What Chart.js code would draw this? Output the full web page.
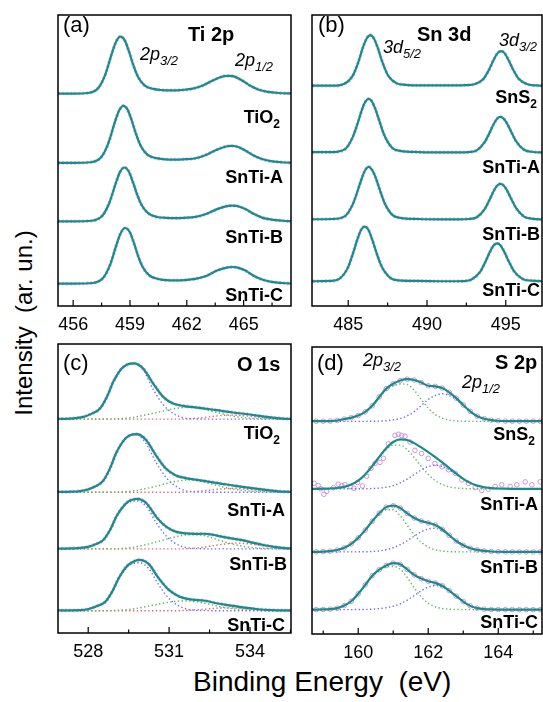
<!DOCTYPE html>
<html>
<head>
<meta charset="utf-8">
<script src="https://cdn.jsdelivr.net/npm/chart.js@4.4.1/dist/chart.umd.min.js"></script>
<style>
html, body { margin: 0; padding: 0; background: #fff; }
body { width: 543px; height: 702px; position: relative; overflow: hidden; font-family: "Liberation Sans", Arial, sans-serif; color: #000; }
canvas { position: absolute; }
.t { position: absolute; line-height: 1; white-space: nowrap; }
.lab { font-weight: bold; font-size: 18px; }
.ttl { font-weight: bold; font-size: 20px; }
.pn { font-size: 22px; }
.it { font-style: italic; font-size: 18px; }
.si { font-size: 13px; position: relative; top: 5px; }
.sb { font-size: 12px; position: relative; top: 5px; }
</style>
</head>
<body>
<canvas id="pa" width="273" height="323" style="left:38px;top:13px"></canvas>
<canvas id="pb" width="270" height="323" style="left:292px;top:13px"></canvas>
<canvas id="pc" width="273" height="321" style="left:38px;top:342px"></canvas>
<canvas id="pd" width="270" height="322" style="left:292px;top:342px"></canvas>

<!-- panel (a) -->
<div class="t pn" style="left:63px;top:14px">(a)</div>
<div class="t ttl" style="left:188px;top:24px">Ti 2p</div>
<div class="t it" style="left:140px;top:45px">2p<span class="si">3/2</span></div>
<div class="t it" style="left:235px;top:51px">2p<span class="si">1/2</span></div>
<div class="t lab" style="right:263px;top:108px">TiO<span class="sb">2</span></div>
<div class="t lab" style="right:260px;top:168px">SnTi-A</div>
<div class="t lab" style="right:260px;top:228px">SnTi-B</div>
<div class="t lab" style="right:260px;top:286px">SnTi-C</div>

<!-- panel (b) -->
<div class="t pn" style="left:318px;top:14px">(b)</div>
<div class="t ttl" style="left:417px;top:24px">Sn 3d</div>
<div class="t it" style="left:383px;top:38px">3d<span class="si">5/2</span></div>
<div class="t it" style="left:499px;top:31px">3d<span class="si">3/2</span></div>
<div class="t lab" style="right:6px;top:88px">SnS<span class="sb">2</span></div>
<div class="t lab" style="right:3px;top:158px">SnTi-A</div>
<div class="t lab" style="right:3px;top:225px">SnTi-B</div>
<div class="t lab" style="right:3px;top:281px">SnTi-C</div>

<!-- panel (c) -->
<div class="t pn" style="left:63px;top:352px">(c)</div>
<div class="t ttl" style="left:237px;top:354px">O 1s</div>
<div class="t lab" style="right:263px;top:424px">TiO<span class="sb">2</span></div>
<div class="t lab" style="right:258px;top:501px">SnTi-A</div>
<div class="t lab" style="right:256px;top:555px">SnTi-B</div>
<div class="t lab" style="right:258px;top:616px">SnTi-C</div>

<!-- panel (d) -->
<div class="t pn" style="left:317px;top:352px">(d)</div>
<div class="t ttl" style="left:495px;top:352px">S 2p</div>
<div class="t it" style="left:363px;top:351px">2p<span class="si">3/2</span></div>
<div class="t it" style="left:462px;top:373px">2p<span class="si">1/2</span></div>
<div class="t lab" style="right:8px;top:425px">SnS<span class="sb">2</span></div>
<div class="t lab" style="right:5px;top:495px">SnTi-A</div>
<div class="t lab" style="right:5px;top:558px">SnTi-B</div>
<div class="t lab" style="right:5px;top:613px">SnTi-C</div>

<div class="t" style="left:193px;top:668px;font-size:28px">Binding Energy&nbsp;&nbsp;(eV)</div>
<div class="t" style="left:24px;top:323px;font-size:24px;transform:translate(-50%,-50%) rotate(-90deg)">Intensity&nbsp;&nbsp;(ar. un.)</div>

<script>
// ---- (a) Ti 2p ----
const tiRange = [455.2, 467.5];
const tiTickLabels = [456, 459, 462, 465];
const tiOffsets = [72.9, 49.1, 29.0, 7.6]; // TiO2, SnTi-A, SnTi-B, SnTi-C
const ti_TiO2 = [[455,0.1],[456,0.1],[456.78,0.3],[457.35,2.2],[457.7,6.7],[458.04,13.8],[458.27,18.0],[458.5,19.7],[458.73,18.3],[458.96,14.3],[459.19,9.6],[459.42,5.9],[459.77,2.9],[460.23,1.7],[460.7,1.3],[461.2,1.2],[461.67,1.3],[462.25,1.7],[462.82,2.8],[463.4,4.7],[463.97,6.1],[464.2,6.2],[464.43,6.1],[464.89,4.7],[465.35,2.8],[465.81,1.4],[466.27,0.7],[466.85,0.3],[467.4,0.15],[467.7,0.1]];
const ti_SnTiA = [[455,0.1],[456,0.1],[456.93,0.3],[457.5,2.2],[457.85,6.7],[458.19,13.8],[458.42,18.0],[458.65,19.7],[458.88,18.3],[459.11,14.3],[459.34,9.6],[459.57,5.9],[459.92,2.9],[460.38,1.7],[460.85,1.3],[461.3,1.2],[461.82,1.3],[462.4,1.6],[462.97,2.7],[463.55,4.5],[464.12,5.8],[464.35,5.9],[464.58,5.8],[465.04,4.5],[465.5,2.7],[465.96,1.4],[466.42,0.7],[467,0.3],[467.4,0.15],[467.7,0.1]];
const ti_SnTiB = [[455,0.1],[456,0.1],[456.98,0.3],[457.55,2.1],[457.9,6.3],[458.24,13.0],[458.47,17.0],[458.7,18.6],[458.93,17.3],[459.16,13.5],[459.39,9.1],[459.62,5.6],[459.97,2.8],[460.43,1.6],[460.9,1.3],[461.4,1.2],[461.87,1.3],[462.45,1.6],[463.02,2.6],[463.6,4.3],[464.17,5.4],[464.4,5.5],[464.63,5.4],[465.09,4.3],[465.55,2.6],[466.01,1.3],[466.47,0.7],[467.05,0.3],[467.4,0.15],[467.7,0.1]];
const ti_SnTiC = [[455,0.1],[456,0.1],[457.03,0.3],[457.6,2.2],[457.95,6.5],[458.29,13.5],[458.52,17.6],[458.75,19.2],[458.98,17.9],[459.21,14.0],[459.44,9.4],[459.67,5.8],[460.02,2.9],[460.48,1.7],[460.9,1.3],[461.4,1.2],[461.87,1.3],[462.45,1.7],[463.02,2.7],[463.6,4.6],[464.17,5.7],[464.4,5.8],[464.63,5.7],[465.09,4.6],[465.55,2.7],[466.01,1.4],[466.47,0.7],[467.05,0.3],[467.4,0.15],[467.7,0.1]];

// ---- (b) Sn 3d ----
const snRange = [482.7, 497.3];
const snTickLabels = [485, 490, 495];
const snOffsets = [75.6, 52.6, 29.6, 8.4]; // SnS2, SnTi-A, SnTi-B, SnTi-C
const sn_SnS2 = [[482.5,0.1],[484,0.1],[484.72,0.7],[485.28,3.5],[485.62,7.9],[485.95,13.5],[486.18,16.4],[486.4,17.5],[486.62,16.4],[486.85,13.5],[487.18,8.0],[487.52,3.7],[488.08,0.9],[488.64,0.4],[489.5,0.2],[491,0.2],[491.9,0.2],[492.46,0.3],[493.02,0.6],[493.58,2.4],[493.92,5.4],[494.25,9.2],[494.48,11.3],[494.7,12.0],[494.92,11.3],[495.15,9.2],[495.48,5.5],[495.82,2.5],[496.38,0.6],[496.94,0.2],[497.5,0.1]];
const sn_SnTiA = [[482.5,0.3],[484,0.3],[484.8,1.3],[485.3,5.6],[485.6,10.2],[485.9,15.3],[486.1,17.7],[486.3,18.6],[486.5,17.7],[486.7,15.4],[487,10.6],[487.3,6.0],[487.8,1.7],[488.3,0.7],[489.5,0.3],[491,0.2],[492,0.2],[492.66,0.3],[493.16,0.9],[493.66,3.7],[493.96,6.8],[494.26,10.2],[494.46,11.8],[494.66,12.4],[494.86,11.8],[495.06,10.3],[495.36,7.1],[495.66,4.0],[496.16,1.1],[496.66,0.4],[497.5,0.1]];
const sn_SnTiB = [[482.5,0.2],[484,0.3],[484.8,1.3],[485.3,5.5],[485.6,10.0],[485.9,14.9],[486.1,17.3],[486.3,18.2],[486.5,17.3],[486.7,15.1],[487,10.4],[487.3,5.9],[487.8,1.7],[488.3,0.7],[489.5,0.3],[491,0.2],[492,0.2],[492.66,0.3],[493.16,0.9],[493.66,3.7],[493.96,6.8],[494.26,10.2],[494.46,11.8],[494.66,12.4],[494.86,11.8],[495.06,10.3],[495.36,7.1],[495.66,4.0],[496.16,1.1],[496.66,0.4],[497.5,0.1]];
const sn_SnTiC = [[482.5,0.1],[483.9,0.2],[484.43,0.9],[484.97,4.7],[485.29,9.5],[485.62,15.1],[485.83,17.9],[486.05,18.9],[486.27,17.9],[486.48,15.1],[486.81,9.6],[487.13,5.1],[487.67,1.3],[488.21,0.4],[489.5,0.2],[491,0.1],[491.9,0.1],[492.29,0.15],[492.83,0.7],[493.37,3.3],[493.69,6.6],[494.02,10.5],[494.23,12.4],[494.45,13.1],[494.67,12.4],[494.88,10.5],[495.21,6.7],[495.53,3.5],[496.07,0.9],[496.61,0.3],[497.5,0.1]];

// ---- (c) O 1s : fit, lattice O (blue), second (green), third (red) ----
const oRange = [526.88, 535.52];
const oTickLabels = [528, 531, 534];
const oOffsets = [74.0, 48.7, 29.1, 7.7]; // TiO2, SnTi-A, SnTi-B, SnTi-C
const oFit_TiO2 = [[526.7,0.1],[527.3,0.2],[527.82,0.8],[528.15,2.0],[528.44,3.7],[528.7,7.8],[528.93,12.9],[529.24,17.5],[529.45,18.9],[529.7,19.3],[530.04,17.5],[530.41,12.3],[530.78,7.7],[531.15,5.4],[531.52,4.6],[532.14,3.9],[532.76,3.1],[533.37,2.3],[533.99,1.6],[534.61,0.8],[535.22,0.2],[535.7,0.1]];
const oMain_TiO2 = [[526.7,0],[527.5,0.2],[527.82,0.7],[528.15,1.9],[528.44,3.6],[528.7,7.7],[528.93,12.8],[529.24,17.4],[529.45,18.8],[529.7,19.1],[530.04,16.9],[530.41,10.3],[530.78,5.0],[531.15,2.0],[531.52,0.5],[532.14,0.05],[533,0],[535.7,0]];
const oMid_TiO2 = [[526.7,0],[529,0.1],[529.5,0.4],[530,1.2],[530.5,2.2],[531,3.3],[531.5,4.0],[531.8,4.1],[532.2,3.6],[532.7,2.5],[533.2,1.3],[533.7,0.6],[534.2,0.25],[534.7,0.1],[535.7,0]];
const oHigh_TiO2 = [[526.7,0],[531.5,0],[532,0.3],[532.5,0.8],[533,1.3],[533.3,1.4],[533.7,1.2],[534.2,0.8],[534.7,0.4],[535.2,0.15],[535.7,0.05]];
const oFit_SnTiA = [[526.7,0.1],[527.4,0.2],[527.92,0.8],[528.25,2.0],[528.54,3.8],[528.8,8.1],[529.03,13.4],[529.34,18.2],[529.55,19.7],[529.8,20.1],[530.14,18.2],[530.51,12.8],[530.88,8.2],[531.25,5.8],[531.62,4.9],[532.24,4.0],[532.86,3.1],[533.47,2.2],[534.09,1.4],[534.71,0.7],[535.3,0.2],[535.7,0.1]];
const oMain_SnTiA = [[526.7,0],[527.6,0.2],[527.92,0.7],[528.25,1.9],[528.54,3.7],[528.8,8.0],[529.03,13.3],[529.34,18.1],[529.55,19.6],[529.8,19.9],[530.14,16.9],[530.51,10.4],[530.88,5.2],[531.25,2.1],[531.62,0.5],[532.24,0.05],[533,0],[535.7,0]];
const oMid_SnTiA = [[526.7,0],[529,0.05],[529.6,0.4],[530.1,1.2],[530.6,2.3],[531.1,3.5],[531.6,4.2],[531.9,4.3],[532.3,3.5],[532.8,2.3],[533.3,1.2],[533.8,0.55],[534.3,0.25],[534.8,0.1],[535.7,0]];
const oHigh_SnTiA = [[526.7,0],[531.5,0],[532,0.3],[532.5,0.7],[533,1.2],[533.4,1.3],[533.8,1.1],[534.3,0.7],[534.8,0.35],[535.2,0.12],[535.7,0.05]];
const oFit_SnTiB = [[526.7,0.1],[527.6,0.25],[527.94,0.6],[528.27,1.6],[528.56,3.1],[528.82,6.7],[529.05,11.3],[529.36,15.4],[529.57,16.8],[529.82,17.3],[530.16,15.8],[530.53,11.0],[530.9,7.6],[531.27,5.9],[531.64,5.35],[532,5.2],[532.26,5.25],[532.6,4.95],[532.9,4.35],[533.3,3.65],[533.7,3.05],[534.1,2.15],[534.5,1.35],[534.9,0.7],[535.3,0.25],[535.7,0.12]];
const oMain_SnTiB = [[526.7,0],[527.6,0.2],[527.94,0.6],[528.27,1.6],[528.56,3.1],[528.82,6.7],[529.05,11.2],[529.36,15.1],[529.57,16.4],[529.82,16.6],[530.16,14.6],[530.53,8.9],[530.9,4.4],[531.27,1.7],[531.64,0.45],[532.26,0.05],[533,0],[535.7,0]];
const oMid_SnTiB = [[526.7,0],[529,0.05],[529.6,0.45],[530.1,1.4],[530.6,2.6],[531.1,3.9],[531.6,4.8],[531.9,5.0],[532.3,4.6],[532.8,3.2],[533.3,1.8],[533.8,0.8],[534.3,0.3],[534.8,0.1],[535.7,0]];
const oHigh_SnTiB = [[526.7,0],[531.5,0],[532,0.3],[532.5,0.9],[533,1.6],[533.5,2.0],[533.9,1.8],[534.4,1.2],[534.9,0.6],[535.3,0.25],[535.7,0.1]];
const oFit_SnTiC = [[526.7,0.1],[527.7,0.2],[528.02,0.6],[528.35,1.7],[528.64,3.15],[528.9,6.8],[529.13,11.25],[529.44,15.5],[529.65,16.9],[529.9,17.6],[530.24,16.2],[530.61,11.3],[530.98,7.3],[531.35,5.05],[531.72,4.0],[532.34,3.45],[532.8,2.5],[533.3,1.8],[533.8,1.05],[534.3,0.52],[534.8,0.23],[535.7,0.05]];
const oMain_SnTiC = [[526.7,0],[527.7,0.18],[528.02,0.6],[528.35,1.65],[528.64,3.1],[528.9,6.7],[529.13,11.1],[529.44,15.1],[529.65,16.3],[529.9,16.6],[530.24,14.6],[530.61,9.0],[530.98,4.4],[531.35,1.75],[531.72,0.45],[532.34,0.05],[533,0],[535.7,0]];
const oMid_SnTiC = [[526.7,0],[528.8,0.05],[529.4,0.35],[529.9,1.0],[530.4,1.9],[530.9,2.8],[531.3,3.3],[531.6,3.4],[532,3.1],[532.5,2.2],[533,1.2],[533.5,0.55],[534,0.2],[534.5,0.08],[535.7,0]];
const oHigh_SnTiC = [[526.7,0],[531.3,0],[531.8,0.2],[532.3,0.5],[532.8,0.9],[533.1,1.0],[533.5,0.9],[534,0.6],[534.5,0.3],[535,0.1],[535.7,0.03]];

// ---- (d) S 2p : values on a shared energy grid ----
const sRange = [158.68, 165.25];
const sTickLabels = [160, 162, 164];
const sOffsets = [74.1, 50.6, 28.6, 8.5]; // SnS2, SnTi-A, SnTi-B, SnTi-C
const sGrid = [158.6,158.8,159.0,159.2,159.4,159.6,159.8,160.0,160.2,160.4,160.6,160.8,161.0,161.2,161.4,161.6,161.8,162.0,162.2,162.4,162.6,162.8,163.0,163.2,163.4,163.6,163.8,164.0,164.2,164.4,164.6,164.8,165.0,165.2,165.4];
const sFit_SnS2 = [0.05,0.05,0.05,0.1,0.3,0.8,1.3,2.0,3.3,5.4,8.5,11.4,13.1,14.2,14.7,14.4,13.5,12.4,12.2,11.6,10.1,8.1,5.7,3.5,1.8,0.9,0.45,0.2,0.1,0.05,0.05,0.05,0.05,0.05,0.05];
const s32_SnS2 = [0,0,0.02,0.08,0.25,0.7,1.2,1.9,3.2,5.3,8.3,10.9,12.4,13.0,12.8,10.8,7.6,4.6,2.4,1.1,0.45,0.15,0.05,0,0,0,0,0,0,0,0,0,0,0,0];
const s12_SnS2 = [0,0,0,0,0,0,0,0,0,0.03,0.08,0.2,0.5,1.0,1.9,3.4,5.5,7.6,9.0,9.6,9.0,7.6,5.5,3.4,1.8,0.9,0.45,0.2,0.1,0.05,0,0,0,0,0];
const sFit_SnTiA = [0,0,0.02,0.1,0.28,0.68,1.48,2.86,5.0,7.9,11.1,14.1,16.3,17.2,17.0,15.9,14.4,12.75,11.06,9.23,7.24,5.25,3.47,2.06,1.1,0.54,0.24,0.09,0.03,0,0,0,0,0,0];
const s32_SnTiA = [0,0,0.02,0.1,0.28,0.68,1.48,2.86,5.0,7.8,10.9,13.6,15.2,15.2,13.6,10.9,7.8,5.0,2.86,1.48,0.68,0.28,0.1,0.02,0,0,0,0,0,0,0,0,0,0,0];
const s12_SnTiA = [0,0,0,0,0,0,0,0,0.03,0.09,0.24,0.54,1.1,2.04,3.37,4.97,6.56,7.75,8.2,7.75,6.56,4.97,3.37,2.04,1.1,0.54,0.24,0.09,0.03,0,0,0,0,0,0];
const sData_SnTiA = [[158.74,1.9],[158.86,1.1],[158.93,0],[159.02,-1.9],[159.1,-0.9],[159.29,0.4],[159.43,1.6],[159.53,1.1],[159.62,1.4],[159.77,0.8],[159.88,0.2],[159.98,2.2],[160.12,1.0],[160.24,4.4],[160.36,7.1],[160.48,8.8],[160.62,9.2],[160.72,10.6],[160.86,15.7],[161.05,18.6],[161.15,19.0],[161.24,18.6],[161.34,18.3],[161.48,16.3],[161.62,13.4],[161.81,12.3],[162.0,10.6],[162.19,8.8],[162.39,7.7],[162.58,6.6],[162.77,5.4],[162.96,3.1],[163.15,1.9],[163.34,0.4],[163.53,-0.6],[163.72,-0.1],[163.91,0.8],[164.1,1.4],[164.34,0.8],[164.53,1.4],[164.77,2.4],[164.96,1.4],[165.2,2.4]];
const sFit_SnTiB = [0.02,0.03,0.1,0.27,0.66,1.43,2.8,4.9,7.6,10.7,13.5,15.6,16.1,15.3,13.4,11.8,10.8,10.1,9.4,7.9,5.8,3.8,2.3,1.3,0.7,0.35,0.15,0.06,0.02,0,0,0,0,0,0];
const s32_SnTiB = [0.01,0.03,0.1,0.27,0.66,1.43,2.77,4.84,7.54,10.53,13.14,14.69,14.69,12.6,9.3,6.0,3.4,1.7,0.75,0.3,0.1,0.03,0,0,0,0,0,0,0,0,0,0,0,0,0];
const s12_SnTiB = [0,0,0,0,0,0,0,0.03,0.05,0.14,0.35,0.75,1.45,2.5,3.9,5.5,7.0,8.0,8.2,7.4,5.8,3.9,2.4,1.3,0.7,0.35,0.15,0.05,0,0,0,0,0,0,0];
const sFit_SnTiC = [0,0,0.05,0.15,0.5,1.4,2.9,5.5,8.6,11.8,13.9,15.4,16.2,15.8,14.0,12.1,10.8,9.9,9.3,8.3,6.6,4.7,2.8,1.3,0.5,0.15,0.05,0,0,0,0,0,0,0,0];
const s32_SnTiC = [0,0,0.05,0.15,0.5,1.35,2.8,5.3,8.3,11.4,13.5,14.8,15.0,14.1,11.2,7.6,4.4,2.2,1.0,0.4,0.15,0.05,0,0,0,0,0,0,0,0,0,0,0,0,0];
const s12_SnTiC = [0,0,0,0,0,0,0,0.03,0.07,0.15,0.35,0.65,1.2,2.0,3.3,4.9,6.5,7.8,8.4,7.9,6.5,4.7,2.8,1.3,0.5,0.15,0.05,0,0,0,0,0,0,0,0];

const FONT = '"Liberation Sans", Arial, sans-serif';
const TEAL = '#168d8d';
const PINK = '#d98fdb';

const pairs = (arr, off) => arr.map(p => ({ x: p[0], y: p[1] + off }));
const onGrid = (vals, off) => sGrid.map((e, i) => ({ x: e, y: vals[i] + off }));

const fitStyle = { borderColor: TEAL, borderWidth: 2.2, pointRadius: 0, order: 0 };
const haloStyle = { borderColor: '#e6b9e7', borderWidth: 3.6, borderDash: [2, 2], pointRadius: 0, order: 3 };
const dotted = c => ({ borderColor: c, borderWidth: 1.4, borderDash: [1.4, 2.4], pointRadius: 0, order: 1 });
const circles = { showLine: false, pointRadius: 2.3, pointBorderWidth: 1, pointBorderColor: PINK, pointBackgroundColor: 'rgba(255,255,255,0)', order: 2 };
const BLUE = '#6e6ef0', GREEN = '#5fb85f', RED = '#e06a6a';

// box plus inward ticks on the bottom axis
const framePlugin = {
    id: 'frame',
    afterDatasetsDraw(chart) {
        const { ctx, chartArea: a } = chart;
        const x = chart.scales.x;
        ctx.save();
        ctx.strokeStyle = '#000';
        ctx.lineWidth = 1.5;
        ctx.strokeRect(a.left, a.top, a.right - a.left, a.bottom - a.top);
        ctx.lineWidth = 1.2;
        x.ticks.forEach(t => {
            const px = x.getPixelForValue(t.value);
            const len = t.label ? 6 : 3.5;
            ctx.beginPath();
            ctx.moveTo(px, a.bottom);
            ctx.lineTo(px, a.bottom - len);
            ctx.stroke();
        });
        ctx.restore();
    }
};

function panel(id, range, step, tickLabels, datasets) {
    return new Chart(document.getElementById(id), {
        type: 'line',
        data: { datasets },
        options: {
            responsive: false,
            animation: false,
            devicePixelRatio: 1,
            layout: { padding: { left: 20, right: 20, top: 2, bottom: 0 } },
            plugins: { legend: { display: false }, tooltip: { enabled: false } },
            elements: { line: { cubicInterpolationMode: 'monotone' }, point: { radius: 0 } },
            scales: {
                x: {
                    type: 'linear', min: range[0], max: range[1],
                    grid: { display: false, drawTicks: false },
                    border: { display: false },
                    ticks: {
                        stepSize: step, includeBounds: false, autoSkip: false, maxRotation: 0,
                        padding: 8, color: '#000', font: { family: FONT, size: 18 },
                        callback: v => tickLabels.some(t => Math.abs(t - v) < 1e-6) ? String(Math.round(v)) : ''
                    },
                    afterFit: s => { s.height = 30; }
                },
                y: { display: false, min: 0, max: 100 }
            }
        },
        plugins: [framePlugin]
    });
}

// (a)
const tiDs = [];
[ti_TiO2, ti_SnTiA, ti_SnTiB, ti_SnTiC].forEach((s, i) => {
    tiDs.push({ ...fitStyle, data: pairs(s, tiOffsets[i]) });
    tiDs.push({ ...haloStyle, data: pairs(s, tiOffsets[i]) });
});
panel('pa', tiRange, 1.5, tiTickLabels, tiDs);

// (b)
const snDs = [];
[sn_SnS2, sn_SnTiA, sn_SnTiB, sn_SnTiC].forEach((s, i) => {
    snDs.push({ ...fitStyle, data: pairs(s, snOffsets[i]) });
    snDs.push({ ...haloStyle, data: pairs(s, snOffsets[i]) });
});
panel('pb', snRange, 2.5, snTickLabels, snDs);

// (c)
const oDs = [];
[
    [oFit_TiO2, oMain_TiO2, oMid_TiO2, oHigh_TiO2],
    [oFit_SnTiA, oMain_SnTiA, oMid_SnTiA, oHigh_SnTiA],
    [oFit_SnTiB, oMain_SnTiB, oMid_SnTiB, oHigh_SnTiB],
    [oFit_SnTiC, oMain_SnTiC, oMid_SnTiC, oHigh_SnTiC]
].forEach((g, i) => {
    const off = oOffsets[i];
    oDs.push({ ...fitStyle, data: pairs(g[0], off) });
    oDs.push({ ...dotted(BLUE), data: pairs(g[1], off) });
    oDs.push({ ...dotted(GREEN), data: pairs(g[2], off) });
    oDs.push({ ...dotted(RED), data: pairs(g[3], off) });
    oDs.push({ ...haloStyle, data: pairs(g[0], off) });
});
panel('pc', oRange, 1.5, oTickLabels, oDs);

// (d)
const sDs = [];
[
    [sFit_SnS2, s32_SnS2, s12_SnS2],
    [sFit_SnTiA, s32_SnTiA, s12_SnTiA],
    [sFit_SnTiB, s32_SnTiB, s12_SnTiB],
    [sFit_SnTiC, s32_SnTiC, s12_SnTiC]
].forEach((g, i) => {
    const off = sOffsets[i];
    sDs.push({ ...fitStyle, data: onGrid(g[0], off) });
    sDs.push({ ...dotted(GREEN), data: onGrid(g[1], off) });
    sDs.push({ ...dotted(BLUE), data: onGrid(g[2], off) });
    if (i === 1) {
        sDs.push({ ...circles, data: pairs(sData_SnTiA, off) });
    } else {
        sDs.push({ ...circles, data: onGrid(g[0], off) });
    }
});
panel('pd', sRange, 1, sTickLabels, sDs);
</script>
</body>
</html>
